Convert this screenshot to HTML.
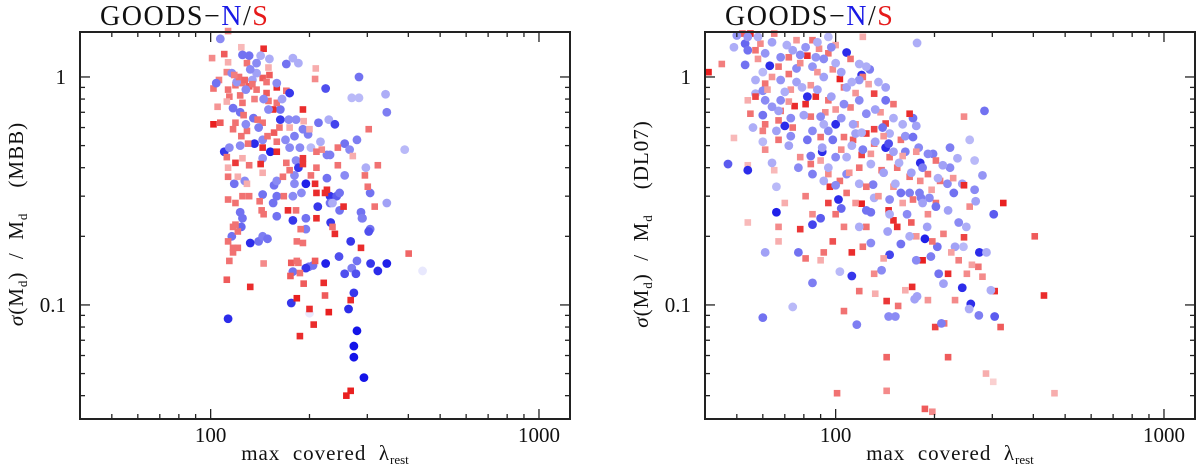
<!DOCTYPE html>
<html><head><meta charset="utf-8"><style>
html,body{margin:0;padding:0;background:#fff;}
svg{display:block;font-family:"Liberation Serif",serif;}
</style></head><body>
<svg id="chart" width="1200" height="470" viewBox="0 0 1200 470"></svg>
<script>
// ---- data: [lambda_rest, sigma(Md)/Md, shade] ----
const leftNorth = [[107,1.47,.5],[125,1.25,.6],[131,1.24,.6],[142,1.24,.35],[151,1.20,.35],[178,1.21,.35],[185,1.15,.35],[170,1.14,.6],[138,1.15,.5],[283,1.0,.6],[224,.89,.75],[269,.81,.3],[283,.81,.3],[341,.84,.35],[344,.70,.55],[104,.94,.6],[116,1.04,.5],[138,1.04,.4],[134,.97,.4],[159,.94,.5],[174,.85,.85],[117,.73,.6],[123,.70,.6],[135,.66,.6],[163,.72,.6],[163,.65,.85],[182,.65,.5],[173,.65,.5],[213,.63,.6],[229,.65,.35],[239,.62,.8],[191,.59,.55],[198,.56,.55],[180,.55,.55],[279,.53,.55],[256,.51,.6],[265,.48,.5],[390,.48,.3],[110,.47,.85],[114,.49,.5],[123,.50,.5],[136,.51,.9],[152,.47,.95],[202,.49,.3],[216,.52,.35],[144,.53,.5],[169,.53,.5],[174,.49,.5],[187,.49,.5],[226,.455,.55],[231,.455,.55],[144,.44,.45],[182,.43,.5],[185,.40,.85],[180,.37,.5],[180,.34,.5],[195,.34,.95],[226,.36,.6],[256,.37,.5],[297,.40,.35],[306,.31,.6],[344,.28,.4],[118,.34,.6],[127,.35,.5],[156,.335,.6],[159,.35,.5],[144,.305,.6],[159,.30,.6],[178,.30,.5],[189,.31,.5],[212,.27,.85],[231,.30,.85],[242,.30,.7],[247,.31,.6],[231,.28,.6],[235,.28,.35],[247,.26,.6],[287,.255,.6],[290,.24,.6],[123,.255,.6],[125,.24,.6],[124,.22,.65],[155,.28,.6],[159,.245,.6],[178,.235,.85],[195,.24,.6],[232,.23,.85],[306,.215,.6],[116,.20,.6],[132,.187,.9],[140,.19,.6],[144,.20,.55],[149,.195,.6],[195,.215,.55],[267,.19,.85],[303,.21,.75],[289,.24,.55],[246,.163,.75],[279,.156,.6],[269,.145,.55],[256,.137,.75],[277,.137,.75],[307,.152,.85],[323,.141,.9],[344,.152,.95],[442,.141,.1],[224,.152,.95],[205,.149,.6],[199,.147,.6],[195,.145,.85],[178,.14,.6],[176,.102,.85],[273,.113,.85],[263,.096,.9],[113,.087,.9],[279,.077,1],[273,.066,1],[273,.059,1],[293,.048,1],[200,.092,.1],[128,.88,.5],[120,.95,.45],[132,1.08,.5],[145,.80,.5],[150,.72,.5],[140,.60,.55],[128,.62,.5],[165,.80,.4]];
const leftSouth = [[113,1.59,.5],[124,1.35,.3],[145,1.33,.9],[110,1.26,.7],[101,1.21,.5],[113,1.16,.35],[209,1.09,.35],[208,.98,.5],[150,1.10,.35],[129,1.15,.6],[151,1.02,.7],[102,.89,.6],[112,1.05,.55],[106,.97,.55],[119,.92,.6],[125,.94,.6],[131,.91,.7],[144,.99,.7],[148,.95,.6],[159,.90,.9],[170,.87,.6],[113,.88,.6],[114,.82,.6],[123,.83,.6],[138,.88,.6],[148,.85,.7],[125,.77,.6],[105,.74,.45],[112,.78,.35],[150,.785,.6],[155,.72,.9],[159,.77,.6],[191,.72,.9],[102,.62,.95],[107,.63,.7],[117,.59,.6],[119,.63,.6],[129,.58,.6],[139,.65,.6],[144,.63,.6],[156,.57,.7],[162,.60,.6],[174,.60,.35],[192,.64,.35],[200,.59,.35],[303,.59,.6],[124,.55,.6],[130,.51,.6],[144,.49,.9],[159,.47,.9],[149,.55,.6],[159,.52,.6],[244,.49,.6],[218,.48,.5],[210,.47,.6],[271,.45,.35],[112,.445,.6],[125,.44,.35],[119,.42,.85],[131,.41,.6],[113,.40,.35],[142,.415,.9],[170,.42,.6],[191,.44,.85],[191,.415,.85],[210,.40,.6],[244,.41,.6],[323,.41,.6],[113,.365,.6],[121,.365,.35],[129,.34,.35],[144,.38,.35],[166,.365,.6],[174,.39,.6],[202,.37,.6],[208,.34,.9],[226,.32,.9],[223,.31,.9],[210,.31,.9],[295,.37,.6],[301,.33,.6],[113,.29,.6],[119,.28,.6],[125,.30,.6],[131,.30,.6],[141,.285,.6],[143,.26,.6],[167,.30,.6],[172,.26,.9],[182,.26,.6],[254,.27,.9],[316,.27,.6],[119,.225,.6],[145,.25,.6],[210,.24,.9],[235,.22,.6],[239,.205,.9],[117,.22,.6],[121,.21,.6],[113,.19,.6],[117,.178,.6],[121,.178,.6],[117,.17,.6],[114,.156,.6],[145,.152,.5],[188,.215,.6],[183,.19,.6],[191,.187,.6],[176,.153,.7],[183,.156,.6],[185,.153,.6],[208,.156,.7],[175,.134,.7],[187,.138,.6],[287,.178,.9],[401,.168,.65],[112,.129,.7],[132,.12,.9],[192,.124,.7],[221,.125,.9],[223,.11,.7],[267,.105,.9],[183,.107,.95],[200,.096,.9],[229,.093,.95],[206,.082,.9],[187,.073,.9],[267,.042,.95],[259,.040,.95],[122,1.0,.6],[127,.97,.65],[134,.93,.6],[118,1.02,.55],[136,.80,.55],[126,.68,.6]];
const rightNorth = [[53,1.40,.65],[54,1.31,.6],[53,1.13,.6],[57,.845,.35],[63,1.12,.9],[60,1.05,.3],[60,.68,.6],[61,.79,.5],[70,.61,.9],[73,.55,.5],[47,.415,.7],[54,.39,.9],[60,.52,.3],[64,.42,.35],[66,.33,.3],[66,.255,.95],[61,.17,.4],[60,.088,.6],[74,.098,.3],[77,.17,.6],[85,.125,.55],[85,.225,.8],[90,.24,.7],[91,.47,.9],[82,.82,.9],[100,.62,.9],[108,1.28,.9],[120,1.02,.9],[127,1.08,.55],[118,1.14,.35],[142,.79,.6],[142,.49,.9],[145,.51,.75],[172,.66,.6],[176,.61,.4],[181,.42,.9],[187,.195,.95],[184,.40,.55],[198,.46,.55],[223,.49,.55],[223,.40,.5],[256,.53,.3],[284,.71,.6],[265,.43,.3],[280,.37,.45],[303,.25,.7],[274,.17,.9],[288,.17,.35],[243,.34,.4],[219,.34,.5],[229,.31,.6],[265,.32,.5],[267,.285,.4],[237,.23,.5],[231,.18,.4],[245,.18,.3],[243,.119,.9],[258,.101,.9],[255,.096,.35],[273,.09,.55],[305,.089,.7],[297,.116,.35],[204,.18,.6],[206,.137,.6],[213,.124,.4],[176,.157,.5],[177,.109,.4],[174,.106,.4],[195,.163,.55],[210,.083,.55],[145,.089,.5],[152,.089,.5],[158,.185,.6],[144,.21,.4],[146,.166,.8],[128,.187,.5],[138,.142,.5],[112,.134,.85],[116,.082,.55],[103,.14,.3],[102,.29,.9],[104,.265,.65],[118,.34,.35],[130,.337,.55],[131,.295,.35],[146,.29,.5],[158,.31,.6],[168,.31,.55],[180,.31,.55],[182,.295,.55],[193,.295,.5],[184,.28,.4],[202,.27,.6],[165,.25,.5],[146,.25,.35],[124,.26,.6],[128,.255,.6],[85,.375,.55],[77,.40,.5],[84,.45,.6],[91,.49,.4],[98,.53,.6],[108,.445,.35],[121,.48,.55],[128,.415,.35],[139,.60,.6],[146,.565,.35],[163,.55,.45],[172,.545,.6],[179,.49,.5],[191,.46,.5],[150,.47,.4],[163,.47,.55],[108,.90,.4],[118,.79,.5],[124,.69,.5],[106,.76,.5],[92,1.0,.4],[85,1.11,.45],[76,1.09,.5],[76,.95,.4],[68,.79,.5],[67,.71,.4],[73,.66,.5],[82,.53,.6],[85,.58,.5],[95,.58,.5],[68,.97,.45],[60,.87,.5],[57,.97,.35],[61,1.27,.45],[68,1.22,.5],[74,1.31,.4],[81,1.35,.45],[87,1.22,.45],[95,1.5,.3],[97,1.35,.5],[124,1.11,.35],[135,.95,.35],[142,.90,.4],[118,.97,.45],[54,1.5,.45],[58,1.5,.35],[177,1.41,.35],[90,.67,.5],[100,.445,.5],[108,.375,.5],[100,.335,.5],[92,.35,.35],[115,.565,.4],[64,1.42,.4],[71,1.38,.35],[78,1.25,.5],[88,1.42,.35],[92,1.20,.5],[100,1.15,.35],[104,1.05,.4],[112,.95,.35],[79,.90,.35],[88,.88,.4],[97,.82,.4],[70,.86,.35],[64,.74,.45],[80,.68,.4],[92,.62,.35],[104,.66,.45],[113,.62,.4],[120,.57,.35],[132,.72,.4],[150,.66,.35],[160,.62,.35],[132,.52,.4],[112,.50,.35],[156,.42,.35],[170,.38,.4],[140,.38,.4],[205,.36,.35],[212,.41,.4],[235,.44,.35],[152,.34,.35],[220,.26,.4],[250,.22,.35],[190,.22,.4],[168,.20,.35],[118,.22,.35],[95,.40,.35],[72,.50,.4],[56,.60,.35],[66,.58,.4],[50,1.52,.45],[49,1.35,.35]];
const rightSouth = [[41,1.05,.95],[45,1.14,.55],[54,.79,.35],[49,.54,.3],[61,.48,.5],[54,.41,.3],[65,.39,.3],[54,.23,.3],[67,.22,.5],[67,.19,.35],[70,.28,.35],[61,.62,.6],[57,.82,.8],[61,.935,.6],[67,1.11,.6],[72,1.03,.6],[78,.215,.85],[81,.16,.6],[90,.157,.35],[92,.17,.6],[81,.30,.55],[95,.28,.8],[98,.19,.75],[101,.041,.6],[106,.094,.6],[112,.17,.9],[118,.115,.6],[120,.278,.95],[132,.112,.35],[143,.104,.85],[143,.059,.65],[143,.042,.5],[155,.099,.6],[171,.12,.9],[184,.157,.95],[187,.035,.7],[197,.034,.5],[201,.08,.8],[214,.083,.6],[220,.059,.7],[220,.137,.9],[246,.198,.8],[246,.67,.5],[256,.27,.5],[287,.05,.35],[302,.046,.2],[305,.115,.9],[318,.08,.7],[324,.28,.95],[404,.20,.7],[431,.11,.9],[464,.041,.35],[246,.335,.9],[202,.28,.6],[191,.25,.5],[170,.23,.7],[154,.22,.9],[150,.235,.9],[145,.26,.9],[120,.455,.8],[113,.53,.7],[124,.565,.85],[131,.59,.8],[142,.625,.8],[158,.53,.6],[168,.69,.9],[150,.76,.6],[131,.845,.8],[121,1.0,.6],[103,.98,.95],[106,.90,.6],[111,.735,.55],[95,.79,.6],[87,.82,.9],[81,.76,.9],[75,.745,.9],[68,.71,.6],[74,.60,.6],[78,.445,.5],[84,.415,.6],[95,.375,.5],[96,.33,.9],[103,.35,.6],[108,.31,.6],[118,.40,.6],[124,.33,.6],[138,.39,.6],[154,.40,.6],[168,.365,.6],[181,.35,.5],[191,.375,.6],[72,1.22,.6],[82,1.24,.9],[85,1.45,.6],[95,1.27,.6],[111,1.2,.6],[57,1.31,.6],[52,1.55,.7],[55,1.55,.95],[65,1.55,.55],[121,1.5,.35],[60,.58,.55],[67,.53,.6],[55,.69,.6],[67,.645,.6],[84,.67,.6],[90,.545,.6],[106,.545,.6],[131,.51,.6],[146,.445,.6],[202,.43,.6],[208,.35,.6],[172,.29,.6],[124,.22,.6],[106,.22,.55],[100,.25,.6],[85,.25,.5],[213,.205,.55],[197,.19,.6],[237,.157,.55],[272,.147,.6],[280,.133,.5],[251,.137,.5],[231,.105,.5],[131,.137,.5],[163,.116,.35],[191,.105,.45],[121,.18,.6],[59,1.40,.5],[76,1.45,.45],[89,1.33,.5],[100,1.38,.4],[78,1.15,.5],[88,1.05,.45],[98,1.08,.5],[64,1.00,.45],[73,.88,.45],[84,.92,.45],[93,.70,.5],[100,.72,.45],[115,.85,.45],[126,.93,.4],[137,.70,.45],[115,.62,.45],[104,.48,.5],[128,.46,.45],[140,.55,.45],[160,.45,.4],[150,.33,.45],[176,.47,.45],[196,.32,.4],[228,.36,.45],[110,.38,.45],[135,.30,.45],[160,.28,.4],[90,.43,.4],[72,.78,.45],[62,.88,.4],[58,1.20,.45],[115,.28,.45],[176,.20,.45],[225,.17,.4],[260,.15,.4],[140,.16,.4]];
const xMajorTicks = [100, 1000];
const xMinorTicks = [40,50,60,70,80,90,200,300,400,500,600,700,800,900];
const yMajorTicks = [0.1, 1];
const yMinorTicks = [0.04,0.05,0.06,0.07,0.08,0.09,0.2,0.3,0.4,0.5,0.6,0.7,0.8,0.9];
const xTickLabels = ["100","1000"];
const yTickLabels = ["0.1","1"];

const NS = "http://www.w3.org/2000/svg";
const svg = document.getElementById("chart");
function mk(tag, attrs, parent){const e=document.createElementNS(NS,tag);for(const k in attrs)e.setAttribute(k,attrs[k]);(parent||svg).appendChild(e);return e;}
const X0=40, X1=1243, Y0=0.0316, Y1=1.575;

function drawPanel(left, north, south, method, key){
  const top=32, bottom=419, right=left+490;
  const g = mk("g",{});
  
  
  const xs = v => left + (Math.log10(v)-Math.log10(X0))/(Math.log10(X1)-Math.log10(X0))*(right-left);
  const ys = v => bottom - (Math.log10(v)-Math.log10(Y0))/(Math.log10(Y1)-Math.log10(Y0))*(bottom-top);
  const pts = mk("g",{},g);
  
  
  const mix = (c,s)=>{const r=Math.round(255-(255-c[0])*s),gg=Math.round(255-(255-c[1])*s),b=Math.round(255-(255-c[2])*s);return `rgb(${r},${gg},${b})`;};
  const n = Math.max(north.length, south.length);
  for(let i=0;i<n;i++){
    if(i<south.length){const d=south[i];
      const r=mk("rect",{x:xs(d[0])-3.3,y:ys(d[1])-3.3,width:6.6,height:6.6,fill:mix([232,20,20],d[2])},pts);
      
      }
    if(i<north.length){const d=north[i];
      const c=mk("circle",{cx:xs(d[0]),cy:ys(d[1]),r:4.4,fill:mix([20,20,232],d[2])},pts);
      
      }
  }
  const frame=mk("rect",{x:left,y:top,width:490,height:bottom-top,fill:"none",stroke:"#222","stroke-width":2},g);
  
  
  const tk = mk("g",{stroke:"#222","stroke-width":1.3},g);
  
  
  xMajorTicks.forEach(v=>{const x=xs(v);mk("line",{x1:x,x2:x,y1:bottom,y2:bottom-10},tk);mk("line",{x1:x,x2:x,y1:top,y2:top+10},tk);});
  xMinorTicks.forEach(v=>{const x=xs(v);mk("line",{x1:x,x2:x,y1:bottom,y2:bottom-5},tk);mk("line",{x1:x,x2:x,y1:top,y2:top+5},tk);});
  yMajorTicks.forEach(v=>{const y=ys(v);mk("line",{x1:left,x2:left+10,y1:y,y2:y},tk);mk("line",{x1:right,x2:right-10,y1:y,y2:y},tk);});
  yMinorTicks.forEach(v=>{const y=ys(v);mk("line",{x1:left,x2:left+5,y1:y,y2:y},tk);mk("line",{x1:right,x2:right-5,y1:y,y2:y},tk);});
  xMajorTicks.forEach((v,i)=>{const t=mk("text",{x:xs(v),y:442,"text-anchor":"middle","font-size":21,fill:"#111"},g);t.textContent=xTickLabels[i];
    
    });
  yMajorTicks.forEach((v,i)=>{const t=mk("text",{x:left-14,y:ys(v)+7,"text-anchor":"end","font-size":21,fill:"#111"},g);t.textContent=yTickLabels[i];
    
    });
  const xl=mk("text",{x:left+245,y:460,"text-anchor":"middle","font-size":21,fill:"#111","letter-spacing":"1",style:"white-space:pre"},g);
  xl.innerHTML='max  covered  λ<tspan font-size="13" dy="4" letter-spacing="0">rest</tspan>';
  
  
  const yl=mk("text",{x:0,y:0,"text-anchor":"middle","font-size":21,fill:"#111","letter-spacing":"1",style:"white-space:pre",transform:`translate(${left-57},224) rotate(-90)`},g);
  yl.innerHTML='<tspan font-style="italic">σ</tspan>(M<tspan font-size="13" dy="4">d</tspan><tspan dy="-4">)  /  M</tspan><tspan font-size="13" dy="4">d</tspan><tspan dy="-4">    ('+method+')</tspan>';
  
  
  const tt=mk("text",{x:left+20,y:25,"font-size":28,fill:"#111","letter-spacing":"1.5"},g);
  tt.innerHTML='GOODS−<tspan fill="#1a1ae6">N</tspan>/<tspan fill="#e61a1a">S</tspan>';
  
  
}
drawPanel(80, leftNorth, leftSouth, "MBB", "mbb");
drawPanel(705, rightNorth, rightSouth, "DL07", "dl07");
</script>
</body></html>
